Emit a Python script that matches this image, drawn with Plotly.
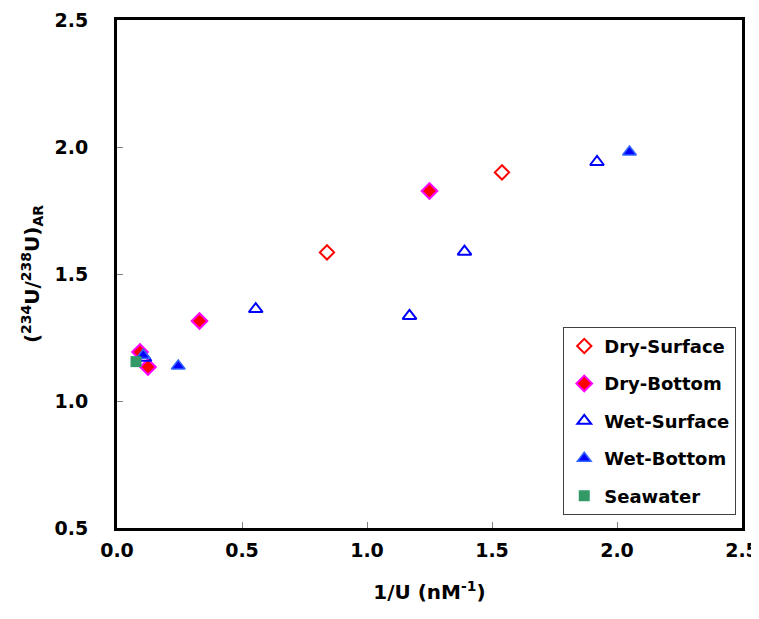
import plotly.graph_objects as go

# Data
dry_surface_x = [0.84, 1.54]
dry_surface_y = [1.585, 1.90]

dry_bottom_x = [0.092, 0.124, 0.33, 1.25]
dry_bottom_y = [1.193, 1.134, 1.315, 1.827]

wet_surface_x = [0.11, 0.555, 1.17, 1.39, 1.92]
wet_surface_y = [1.17, 1.362, 1.335, 1.588, 1.941]

wet_bottom_x = [0.105, 0.245, 2.05]
wet_bottom_y = [1.18, 1.138, 1.98]

seawater_x = [0.076]
seawater_y = [1.155]

x_ticks = [0.0, 0.5, 1.0, 1.5, 2.0, 2.5]
y_ticks = [0.5, 1.0, 1.5, 2.0, 2.5]

FONT = "DejaVu Sans, Arial, sans-serif"

fig = go.Figure()
fig.add_trace(go.Scatter(
    x=dry_surface_x, y=dry_surface_y, mode="markers", name="<b>Dry-Surface</b>",
    legendgroup="a",
    marker=dict(symbol="diamond-open", size=11, color="#FF0000", line=dict(width=2, color="#FF0000")),
))
fig.add_trace(go.Scatter(
    x=dry_bottom_x, y=dry_bottom_y, mode="markers", name="<b>Dry-Bottom</b>",
    legendgroup="b",
    marker=dict(symbol="diamond", size=12, color="#FF0000", line=dict(width=2, color="#FF00FF")),
))
fig.add_trace(go.Scatter(
    x=wet_surface_x, y=wet_surface_y, mode="markers", name="<b>Wet-Surface</b>",
    legendgroup="c",
    marker=dict(symbol="triangle-up-open", size=12, color="#0000FF", line=dict(width=2, color="#0000FF")),
))
fig.add_trace(go.Scatter(
    x=wet_bottom_x, y=wet_bottom_y, mode="markers", name="<b>Wet-Bottom</b>",
    legendgroup="d",
    marker=dict(symbol="triangle-up", size=12, color="#0000FF", line=dict(width=1.5, color="#3366FF")),
))
fig.add_trace(go.Scatter(
    x=seawater_x, y=seawater_y, mode="markers", name="<b>Seawater</b>",
    legendgroup="e",
    marker=dict(symbol="square", size=11, color="#339966", line=dict(width=0)),
))

axis_common = dict(
    showline=True, linewidth=3, linecolor="black", mirror=True,
    showgrid=False, zeroline=False, automargin=False,
    ticks="inside", ticklen=6, tickwidth=1, tickcolor="#808080",
    tickfont=dict(family=FONT, size=19, color="black", weight="bold"),
    tickformat=".1f",
)

fig.update_xaxes(
    range=[0, 2.5], tickvals=x_ticks, ticklabelstandoff=3,
    title=dict(text="<b>1/U (nM<sup>-1</sup>)</b>", font=dict(family=FONT, size=20, color="black"), standoff=26),
    **axis_common,
)
fig.update_yaxes(
    range=[0.5, 2.5], tickvals=y_ticks, ticklabelstandoff=22,
    title=dict(text="<b>(<sup>234</sup>U/<sup>238</sup>U)<sub>AR</sub></b>", font=dict(family=FONT, size=20, color="black"), standoff=10),
    **axis_common,
)

fig.update_layout(
    width=759, height=619,
    margin=dict(l=109, r=25, t=12, b=99),
    paper_bgcolor="white", plot_bgcolor="white",
    showlegend=True,
    legend=dict(
        x=0.714, y=0.396, xanchor="left", yanchor="top",
        bgcolor="white", bordercolor="#404040", borderwidth=1,
        font=dict(family=FONT, size=18, color="black"),
        traceorder="grouped", tracegroupgap=11,
        itemwidth=30,
    ),
)

fig.write_html("out.html")
